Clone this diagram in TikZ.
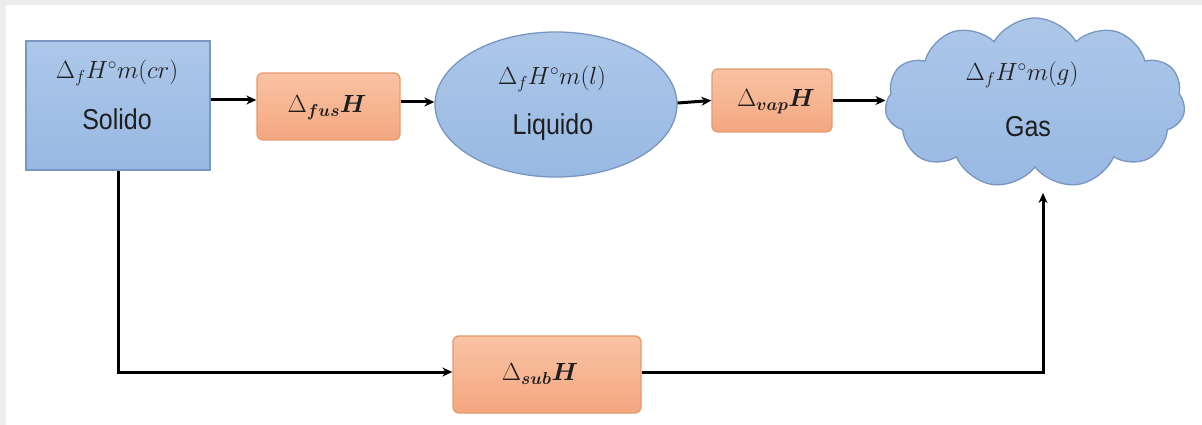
\documentclass[tikz,border=0pt]{standalone}
\usepackage{amsmath}
\usepackage{bm}
\usepackage{fontspec}
\setmainfont{Liberation Sans}
\usetikzlibrary{shapes.geometric,shapes.symbols,arrows.meta,calc}
\definecolor{bfill}{HTML}{98B9E3}
\definecolor{bline}{HTML}{7896C0}
\definecolor{ofillT}{HTML}{F9C3A4}
\definecolor{ofillB}{HTML}{F4A77F}
\definecolor{oline}{HTML}{E49A6E}
\definecolor{txt}{HTML}{1E1E1E}
\definecolor{edgegray}{HTML}{EDEDED}
\newcommand{\vs}[1]{\scalebox{1}[1.15]{#1}}
\begin{document}
\begin{tikzpicture}[x=1pt,y=-1pt,
  bluebox/.style={draw=bline,line width=1.3pt,top color=bfill!80!white,bottom color=bfill},
  orangebox/.style={draw=oline,line width=1.3pt,rounded corners=6pt,top color=ofillT,bottom color=ofillB},
  lbl/.style={text=txt,font=\fontsize{25}{30}\selectfont,inner sep=0pt},
  arr/.style={line width=3pt,-{Stealth[length=10pt,width=9pt]}},
]
\fill[white] (0,0) rectangle (1202,425);
\fill[edgegray] (0,0) rectangle (1202,5);
\fill[edgegray] (0,0) rectangle (6,425);
\useasboundingbox (0,0) rectangle (1202,425);

\node[bluebox,rectangle,minimum width=184pt,minimum height=129pt] (solid) at (118,105.5) {};
\node[orangebox,minimum width=143pt,minimum height=67pt] (fus) at (328.5,106.5) {};
\node[bluebox,ellipse,minimum width=242pt,minimum height=145pt,inner sep=0pt] (liq) at (556,104.5) {};
\node[orangebox,minimum width=120pt,minimum height=63pt] (vap) at (772,100.5) {};
\node[bluebox,cloud,cloud puffs=11,cloud puff arc=120,minimum width=300pt,minimum height=170pt,inner sep=0pt] (gas) at (1035,103) {};
\node[orangebox,minimum width=188pt,minimum height=77pt] (sub) at (547,374.5) {};

\node[lbl] (solidM) at (117,73) {$\Delta_f H^{\circ}m(cr)$};
\node[lbl] (solidN) at (117,119) {\vs{Solido}};
\node[lbl] (liqM) at (552,79) {$\Delta_f H^{\circ}m(l)$};
\node[lbl] (liqN) at (553,127) {\vs{Liquido}};
\node[lbl] (gasM) at (1022,75) {$\Delta_f H^{\circ}m(g)$};
\node[lbl] (gasN) at (1028,127) {\vs{Gas}};
\node[lbl] (fusM) at (327,108) {$\Delta_{\boldsymbol{fus}}\boldsymbol{H}$};
\node[lbl] (vapM) at (776,102) {$\Delta_{\boldsymbol{vap}}\boldsymbol{H}$};
\node[lbl] (subM) at (540,374) {$\Delta_{\boldsymbol{sub}}\boldsymbol{H}$};

\coordinate (gasin) at (1043,193);
\draw[arr] ([yshift=5.5pt]solid.east) -- ([yshift=6.5pt]fus.west);
\draw[arr] ([yshift=4.5pt]fus.east) -- ([yshift=2.5pt]liq.west);
\draw[arr] ([yshift=1.5pt]liq.east) -- (vap.west);
\draw[arr] (vap.east) -- (vap.east -| gas.west);
\draw[arr] (solid.south) |- ([yshift=2.5pt]sub.west);
\draw[arr] ([yshift=2.5pt]sub.east) -| (gasin);
\end{tikzpicture}
\end{document}
